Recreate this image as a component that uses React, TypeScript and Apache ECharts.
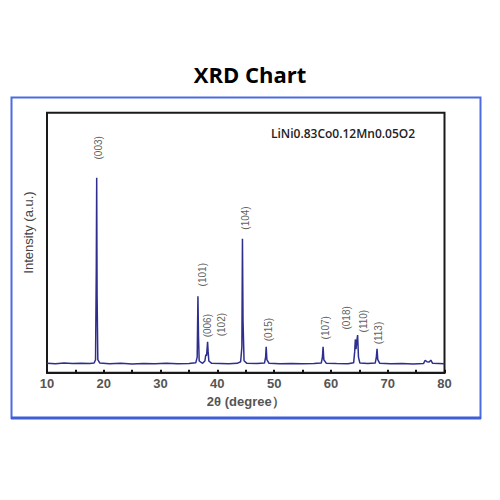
import React, { useEffect, useRef } from "react";
import * as echarts from "echarts";

// 2θ (degree) vs intensity (a.u., 0-100 scale)
const spectrum: [number, number][] = [
  [10, 3.6], [11.5, 3.4], [13, 3.7], [14.5, 3.5], [16, 3.6], [17.5, 3.5], [18.3, 3.7],
  [18.55, 5], [18.68, 40], [18.75, 75], [18.82, 30], [18.95, 5], [19.3, 3.7],
  [21, 3.4], [23, 3.6], [25, 3.3], [27, 3.5], [29, 3.4], [31, 3.6], [33, 3.4], [35, 3.5],
  [36.2, 3.8], [36.45, 6], [36.58, 29.4], [36.68, 14], [36.8, 4.5], [37.4, 3.6],
  [37.8, 4.5], [37.97, 7], [38.1, 6.5], [38.28, 11.9], [38.38, 8], [38.5, 4.5], [39, 3.6],
  [40.5, 3.5], [42, 3.4], [43.5, 3.6], [44.1, 4.2], [44.32, 10], [44.42, 51.5], [44.52, 20],
  [44.7, 4.6], [45.2, 3.6], [47, 3.5], [48.3, 3.7], [48.5, 6], [48.6, 10], [48.72, 5], [49.1, 3.6],
  [51, 3.4], [53, 3.5], [55, 3.4], [57, 3.5], [58.3, 3.7], [58.5, 6], [58.62, 10], [58.75, 5],
  [59.2, 3.6], [61, 3.5], [63, 3.4], [64, 3.8], [64.18, 8], [64.3, 12.8], [64.42, 9],
  [64.55, 12], [64.7, 14.5], [64.85, 6], [65.1, 3.7], [66.5, 3.5], [67.8, 3.7], [68.0, 6],
  [68.12, 9.2], [68.25, 5], [68.6, 3.6], [70.5, 3.4], [72.5, 3.5], [74.5, 3.3], [76.3, 3.5],
  [76.6, 4.8], [76.9, 4.2], [77.3, 4.1], [77.6, 4.8], [77.9, 3.6], [79, 3.5], [80, 3.4],
];

const peakLabels = ["(003)", "(101)", "(006)", "(102)", "(104)", "(015)", "(107)", "(018)", "(110)", "(113)"];
const labelTheta = [19.1, 37.4, 38.2, 40.8, 44.9, 49.0, 59.0, 62.8, 65.8, 68.3];
const labelLevel = [82, 33.2, 13.6, 14, 55, 12.1, 12.8, 16.6, 15.5, 10.9];

const xTicks = { min: 10, max: 80, interval: 10 };
const chartTitle = "XRD Chart";
const sampleName = "LiNi0.83Co0.12Mn0.05O2";
const xName = "2θ (degree）";
const yName = "Intensity (a.u.)";

export default function App() {
  const ref = useRef<HTMLDivElement>(null);
  useEffect(() => {
    if (!ref.current) return;
    const chart = echarts.init(ref.current, undefined, { renderer: "svg" });
    const labelData = peakLabels.map((n, i) => [labelTheta[i], labelLevel[i], n]);
    chart.setOption({
      animation: false,
      backgroundColor: "#ffffff",
      title: {
        text: chartTitle,
        left: "center",
        top: 58,
        textStyle: { fontFamily: "Open Sans", fontWeight: "bold", fontSize: 22, color: "#000" },
      },
      grid: {
        left: 47,
        right: 55.5,
        top: 112.7,
        bottom: 127.3,
        show: true,
        borderColor: "#1a1a1a",
        borderWidth: 2,
        backgroundColor: "transparent",
      },
      xAxis: {
        type: "value",
        min: xTicks.min,
        max: xTicks.max,
        interval: xTicks.interval,
        name: xName,
        nameLocation: "middle",
        nameGap: 21,
        nameTextStyle: { fontFamily: "Liberation Sans", fontSize: 13, fontWeight: "bold", color: "#555" },
        axisLine: { show: true, lineStyle: { color: "#1a1a1a", width: 2 } },
        axisTick: { show: true, inside: true, length: 3, lineStyle: { color: "#111", width: 2 } },
        minorTick: { show: true, splitNumber: 2, length: 3, lineStyle: { color: "#111", width: 2 } },
        axisLabel: { margin: 4, fontFamily: "Liberation Sans", fontSize: 13, fontWeight: "bold", color: "#555" },
        splitLine: { show: false },
      },
      yAxis: {
        type: "value",
        min: 0,
        max: 100,
        axisLine: { show: false },
        axisTick: { show: false },
        axisLabel: { show: false },
        splitLine: { show: false },
      },
      series: [
        {
          type: "line",
          data: spectrum,
          showSymbol: false,
          symbol: "none",
          lineStyle: { color: "#2e2e8e", width: 1.5 },
          z: 3,
        },
        {
          type: "scatter",
          data: labelData,
          symbolSize: 0,
          label: {
            show: true,
            position: [0, 0],
            rotate: 90,
            align: "left",
            verticalAlign: "middle",
            formatter: (p: any) => p.data[2],
            fontFamily: "Liberation Sans",
            fontSize: 10,
            color: "#333",
          },
          z: 4,
        },
      ],
      graphic: [
        {
          type: "rect",
          shape: { x: 11.5, y: 97.5, width: 469, height: 320.5 },
          style: { fill: "none", stroke: "#4a6ce0", lineWidth: 2 },
          silent: true,
        },
        {
          type: "line",
          shape: { x1: 11, y1: 418, x2: 481, y2: 418 },
          style: { stroke: "#3d5fd8", lineWidth: 3 },
          silent: true,
        },
        {
          type: "text",
          x: 343,
          y: 133.3,
          style: {
            text: sampleName,
            fontFamily: "Open Sans",
            fontWeight: 600,
            fontSize: 12,
            fill: "#222",
            align: "center",
            verticalAlign: "middle",
          },
        },
        {
          type: "text",
          x: 28.3,
          y: 232.5,
          rotation: Math.PI / 2,
          style: {
            text: yName,
            fontFamily: "Liberation Sans",
            fontSize: 13,
            fill: "#444",
            align: "center",
            verticalAlign: "middle",
          },
        },
      ],
    });
    return () => chart.dispose();
  }, []);
  return (
    <div
      ref={ref}
      style={{ position: "fixed", left: 0, top: 0, width: 500, height: 500 }}
    />
  );
}
